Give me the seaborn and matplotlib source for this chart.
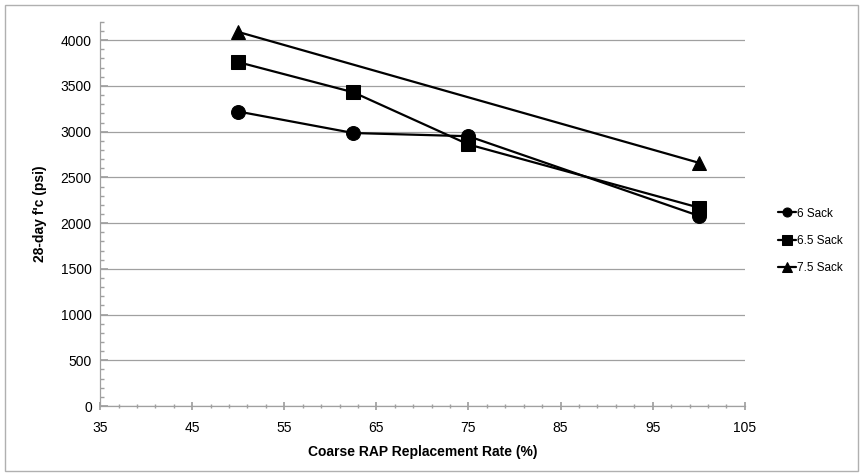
"""28-day compressive strength vs coarse RAP replacement rate."""
import pandas as pd
import matplotlib.pyplot as plt
import seaborn as sns
from matplotlib.patches import Rectangle
from matplotlib.ticker import FixedLocator

rap_6 = [50, 62.5, 75, 100]
fc_6 = [3220, 2985, 2950, 2080]
rap_65 = [50, 62.5, 75, 100]
fc_65 = [3760, 3430, 2860, 2170]
rap_75 = [50, 100]
fc_75 = [4090, 2660]
series = ["6 Sack", "6.5 Sack", "7.5 Sack"]
x_ticks = [35, 45, 55, 65, 75, 85, 95, 105]
y_ticks = [0, 500, 1000, 1500, 2000, 2500, 3000, 3500, 4000]

df = pd.concat([
    pd.DataFrame({"rap": rap_6, "fc": fc_6, "mix": series[0]}),
    pd.DataFrame({"rap": rap_65, "fc": fc_65, "mix": series[1]}),
    pd.DataFrame({"rap": rap_75, "fc": fc_75, "mix": series[2]}),
])

sns.set_theme(style="white")
plt.rcParams["font.family"] = ["Liberation Sans", "DejaVu Sans"]
plt.rcParams["text.color"] = "black"
plt.rcParams["axes.labelcolor"] = "black"
plt.rcParams["xtick.color"] = "black"
plt.rcParams["ytick.color"] = "black"

fig = plt.figure(figsize=(8.63, 4.76), dpi=100)
ax = fig.add_axes([0.116, 0.147, 0.747, 0.807])

sns.lineplot(
    data=df, x="rap", y="fc", style="mix", markers={"6 Sack": "o", "6.5 Sack": "s", "7.5 Sack": "^"},
    dashes=False, color="black", linewidth=1.6, markersize=10, markeredgecolor="black",
    sort=False, ax=ax,
)

ax.set_xlim(35, 105)
ax.set_ylim(0, 4200)
ax.set_xticks(x_ticks)
ax.set_yticks(y_ticks)
ax.xaxis.set_minor_locator(FixedLocator([v for v in range(35, 106) if (v - 35) % 2 == 0 and (v - 35) % 10 != 0]))
ax.yaxis.set_minor_locator(FixedLocator(range(100, 4201, 100)))
ax.grid(axis="y", color="#a0a0a0", linewidth=0.9)
for side in ["top", "right"]:
    ax.spines[side].set_visible(False)
for side in ["left", "bottom"]:
    ax.spines[side].set_color("#a0a0a0")
    ax.spines[side].set_linewidth(0.9)
ax.tick_params(which="both", direction="in", color="#a0a0a0", labelsize=10, pad=6,
               labelcolor="black", bottom=True, left=True)
ax.tick_params(which="major", length=6)
ax.tick_params(which="minor", length=3)
ax.tick_params(axis="x", which="both", direction="inout", pad=8)

ax.set_xlabel("Coarse RAP Replacement Rate (%)", fontsize=10, fontweight="bold", labelpad=7)
ax.set_ylabel("28-day f'c (psi)", fontsize=10, fontweight="bold", labelpad=10)

ax.legend(
    title=None, frameon=False, loc="center left", bbox_to_anchor=(1.035, 0.43),
    fontsize=8.5, handlelength=1.5, handletextpad=0.1, labelspacing=1.3, markerscale=0.65,
)

fig.patches.append(Rectangle((0.006, 0.01), 0.988, 0.98, transform=fig.transFigure,
                             fill=False, edgecolor="#b0b0b0", linewidth=1))

fig.savefig("out.png", dpi=100)
